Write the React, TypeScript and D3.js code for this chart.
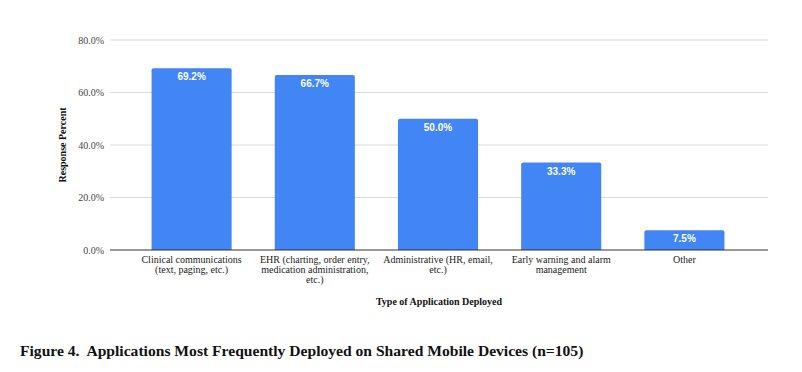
import React from "react";
import * as d3 from "d3";

const categories: string[][] = [
  ["Clinical communications", "(text, paging, etc.)"],
  ["EHR (charting, order entry,", "medication administration,", "etc.)"],
  ["Administrative (HR, email,", "etc.)"],
  ["Early warning and alarm", "management"],
  ["Other"],
];
const values: number[] = [69.2, 66.7, 50.0, 33.3, 7.5];
const yTicks: number[] = [0, 20, 40, 60, 80];

const W = 802;
const H = 372;
const gridLeft = 110;
const gridRight = 768;

export default function App() {
  const x = d3
    .scaleBand<number>()
    .domain(values.map((_, i) => i))
    .range([130, 746])
    .paddingInner(0.35)
    .paddingOuter(0.175);
  const y = d3.scaleLinear().domain([0, 80]).range([250, 40]);
  const serif = "'Liberation Serif', 'Times New Roman', serif";

  return (
    <svg
      width={W}
      height={H}
      style={{ position: "absolute", left: 0, top: 0, background: "#fff" }}
    >
      {yTicks.map((t) => (
        <g key={t}>
          {t !== 0 && (
            <line
              x1={gridLeft}
              x2={gridRight}
              y1={y(t)}
              y2={y(t)}
              stroke="#d9d9d9"
              strokeWidth={1}
            />
          )}
          <text
            x={104}
            y={y(t)}
            dy="0.35em"
            textAnchor="end"
            fontFamily={serif}
            fontSize={10}
            fill="#444"
          >
            {t.toFixed(1)}%
          </text>
        </g>
      ))}
      {values.map((v, i) => {
        const bx = x(i)!;
        const bw = x.bandwidth();
        const top = y(v);
        const r = 2;
        const path = `M${bx},${y(0)} V${top + r} Q${bx},${top} ${bx + r},${top} H${bx + bw - r} Q${bx + bw},${top} ${bx + bw},${top + r} V${y(0)} Z`;
        return (
          <g key={i}>
            <path d={path} fill="#4285f4" />
            <text
              x={bx + bw / 2}
              y={top + 12}
              textAnchor="middle"
              fontFamily="'Liberation Sans', Arial, sans-serif"
              fontWeight="bold"
              fontSize={10}
              fill="#fff"
            >
              {v.toFixed(1)}%
            </text>
            {categories[i].map((line, j) => (
              <text
                key={j}
                x={bx + bw / 2}
                y={263 + j * 10}
                textAnchor="middle"
                fontFamily={serif}
                fontSize={10}
                fill="#222"
              >
                {line}
              </text>
            ))}
          </g>
        );
      })}
      <line
        x1={gridLeft}
        x2={gridRight}
        y1={y(0)}
        y2={y(0)}
        stroke="#333"
        strokeWidth={1}
      />
      <text
        transform={`translate(62, ${y(40)}) rotate(-90)`}
        textAnchor="middle"
        dy="0.35em"
        fontFamily={serif}
        fontWeight="bold"
        fontSize={10}
        fill="#111"
      >
        Response Percent
      </text>
      <text
        x={439}
        y={305}
        textAnchor="middle"
        fontFamily={serif}
        fontWeight="bold"
        fontSize={10}
        fill="#111"
      >
        Type of Application Deployed
      </text>
      <text
        x={20}
        y={356}
        fontFamily={serif}
        fontWeight="bold"
        fontSize={15.6}
        fill="#111"
        style={{ whiteSpace: "pre" }}
      >
        {"Figure 4.  Applications Most Frequently Deployed on Shared Mobile Devices (n=105)"}
      </text>
    </svg>
  );
}
